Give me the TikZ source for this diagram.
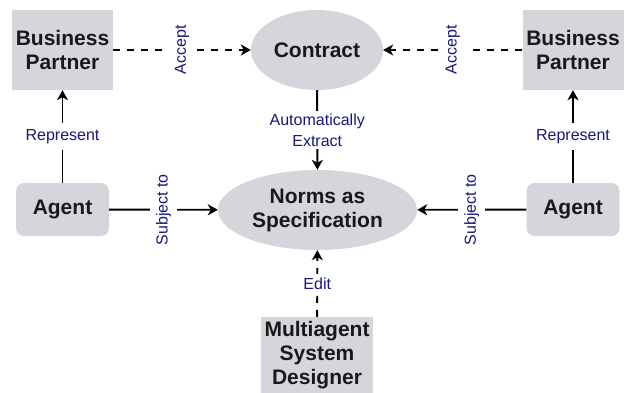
\documentclass[tikz,border=0pt]{standalone}
\usepackage{fontspec}
\setmainfont{Liberation Sans}
\usetikzlibrary{shapes.geometric,arrows.meta}
\definecolor{boxfill}{RGB}{215,213,220}
\definecolor{labelblue}{RGB}{24,24,125}
\definecolor{textdark}{RGB}{25,25,25}
\tikzset{
  entity/.style={fill=boxfill, draw=none, align=center, text=textdark,
    font=\fontsize{21}{24}\selectfont\bfseries, inner sep=0pt},
  squarebox/.style={entity, rectangle},
  roundbox/.style={entity, rectangle, rounded corners=8pt},
  ellbox/.style={entity, ellipse},
  conn/.style={line width=1.9pt, -{Stealth[length=10pt,width=11pt,inset=3pt]}},
  dashconn/.style={conn, dash pattern=on 7pt off 7pt},
  lbl/.style={fill=white, text=labelblue, align=center, inner sep=6pt,
    font=\fontsize{16}{21}\selectfont},
}
\begin{document}
\begin{tikzpicture}[x=1pt,y=-1pt]
\useasboundingbox[fill=white] (0,0) rectangle (626,393);
\node[squarebox, minimum width=101pt, minimum height=80pt] (bpL) at (62.5,50) {Business\\Partner};
\node[squarebox, minimum width=101pt, minimum height=80pt] (bpR) at (573,50) {Business\\Partner};
\node[ellbox, minimum width=132pt, minimum height=80pt] (contract) at (317,50) {Contract};
\node[ellbox, minimum width=199pt, minimum height=80pt] (norms) at (317.5,210) {Norms as\\Specification};
\node[roundbox, minimum width=93pt, minimum height=53pt] (agL) at (62.5,209.5) {Agent};
\node[roundbox, minimum width=93pt, minimum height=53pt] (agR) at (573,209.5) {Agent};
\node[squarebox, minimum width=112pt, minimum height=76pt] (mas) at (317,355) {Multiagent\\System\\Designer};

\draw[dashconn] (bpL) -- node[lbl, rotate=90] {Accept} (contract);
\draw[dashconn] (bpR) -- node[lbl, rotate=90] {Accept} (contract);
\draw[conn] (contract) -- node[lbl, inner sep=3pt] {Automatically\\Extract} (norms);
\draw[conn] (agL) -- node[lbl] {Represent} (bpL);
\draw[conn] (agR) -- node[lbl] {Represent} (bpR);
\draw[conn] (agL) -- node[lbl, rotate=90] {Subject to} (norms);
\draw[conn] (agR) -- node[lbl, rotate=90] {Subject to} (norms);
\draw[dashconn] (mas) -- node[lbl, inner sep=4pt] {Edit} (norms);
\end{tikzpicture}
\end{document}
